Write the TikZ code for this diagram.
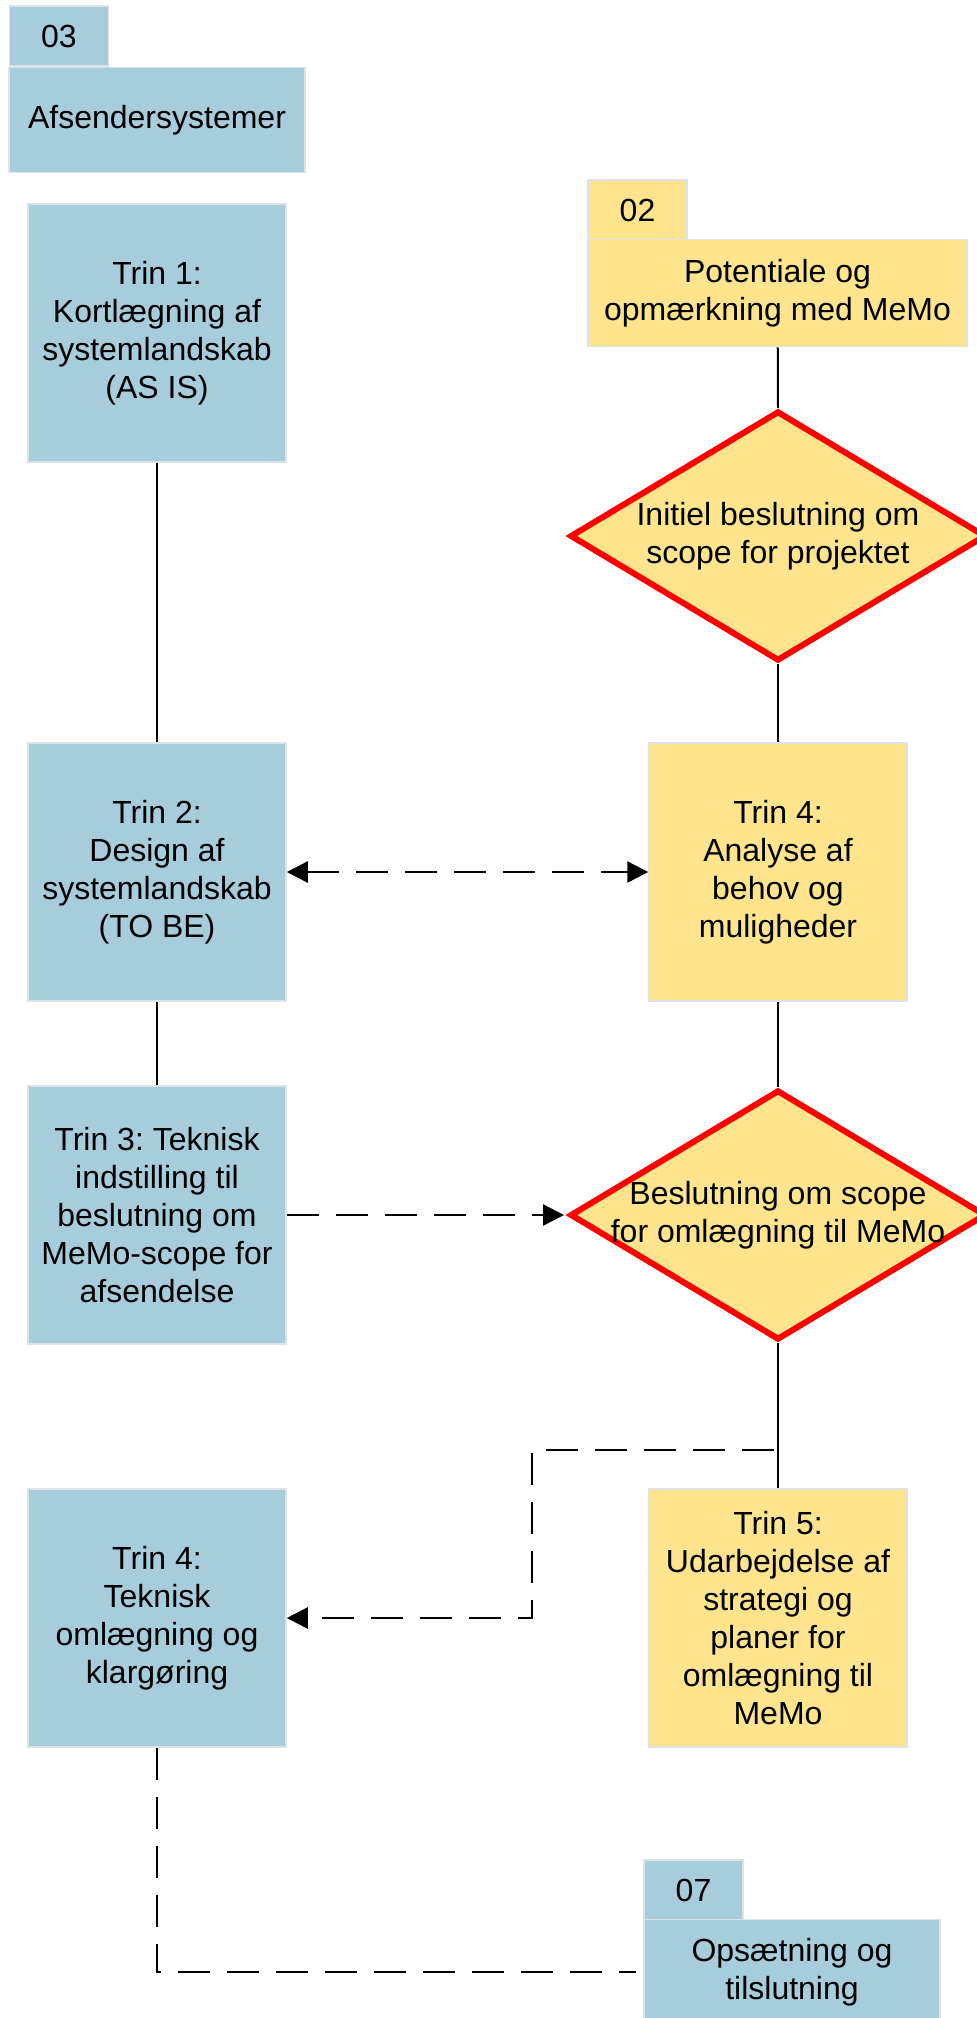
\documentclass[tikz,border=0pt]{standalone}
\usepackage{fontspec}
\setmainfont{Liberation Sans}
\usetikzlibrary{shapes.geometric,arrows.meta}
\frenchspacing

\definecolor{memoblue}{RGB}{168,205,218}
\definecolor{memoyellow}{RGB}{254,229,141}
\definecolor{edgegray}{RGB}{220,226,230}
\definecolor{decisionred}{RGB}{255,0,0}

\tikzset{
  card/.style={draw=edgegray, line width=0.75pt, inner sep=0pt, align=center,
    font=\fontsize{16pt}{19pt}\selectfont},
  bluecard/.style={card, fill=memoblue},
  yellowcard/.style={card, fill=memoyellow},
  trinbox/.style={minimum width=129pt, minimum height=129pt},
  tabbox/.style={minimum width=49.5pt, minimum height=30pt},
  headbox/.style={minimum width=148pt, minimum height=52.5pt},
  decision/.style={diamond, draw=decisionred, fill=memoyellow, line width=3pt,
    minimum width=208pt, minimum height=125pt, inner sep=0pt},
  dashline/.style={line width=1.2pt, dash pattern=on 16pt off 8.5pt},
}

\begin{document}
\begin{tikzpicture}[x=0.5pt,y=-0.5pt,>={Triangle[length=10.5pt,width=10.5pt]}]
\useasboundingbox (0,0) rectangle (977,2018);

\node[bluecard,tabbox] (tab03) at (59,36) {03};
\node[bluecard,headbox] (afsender) at (157,120) {Afsendersystemer};
\node[bluecard,trinbox] (trin1) at (157,333) {Trin 1:\\Kortlægning af\\systemlandskab\\(AS IS)};
\node[bluecard,trinbox] (trin2) at (157,872) {Trin 2:\\Design af\\systemlandskab\\(TO BE)};
\node[bluecard,trinbox] (trin3) at (157,1215) {Trin 3: Teknisk\\indstilling til\\beslutning om\\MeMo-scope for\\afsendelse};
\node[bluecard,trinbox] (trin4b) at (157,1618) {Trin 4:\\Teknisk\\omlægning og\\klargøring};

\node[yellowcard,tabbox] (tab02) at (637.5,210) {02};
\node[yellowcard,headbox,minimum width=189.5pt,minimum height=53.5pt] (potentiale) at (777.5,293) {Potentiale og\\opmærkning med MeMo};
\node[decision,label={[font=\fontsize{16pt}{19pt}\selectfont,align=center]center:Initiel beslutning om\\scope for projektet}] (dia1) at (778,536) {};
\node[yellowcard,trinbox] (trin4y) at (778,872) {Trin 4:\\Analyse af\\behov og\\muligheder};
\node[decision,label={[font=\fontsize{16pt}{19pt}\selectfont,align=center]center:Beslutning om scope\\for omlægning til MeMo}] (dia2) at (778,1215) {};
\node[yellowcard,trinbox] (trin5) at (778,1618) {Trin 5:\\Udarbejdelse af\\strategi og\\planer for\\omlægning til\\MeMo};

\node[bluecard,tabbox] (tab07) at (693.5,1890) {07};
\node[bluecard,headbox] (opsaetning) at (792,1972) {Opsætning og\\tilslutning};

\coordinate (split) at (778,1405);
\coordinate (bend) at (532,1450);

\draw [line width=1pt] (trin1)--(trin2)--(trin3);
\draw [line width=1pt] (potentiale)--(dia1.north);
\draw [line width=1pt] (dia1.south)--(trin4y)--(dia2.north);
\draw [line width=1pt] (dia2.south)--(trin5);
\draw [dashline,<->] (trin2)--(trin4y);
\draw [dashline,->,shorten >=1.5pt] (trin3)--(dia2.west);
\draw [dashline,->] (split) |- (bend) |- (trin4b.east);
\draw [dashline,shorten >=3.5pt] (trin4b.south) |- (opsaetning.west);
\end{tikzpicture}
\end{document}
